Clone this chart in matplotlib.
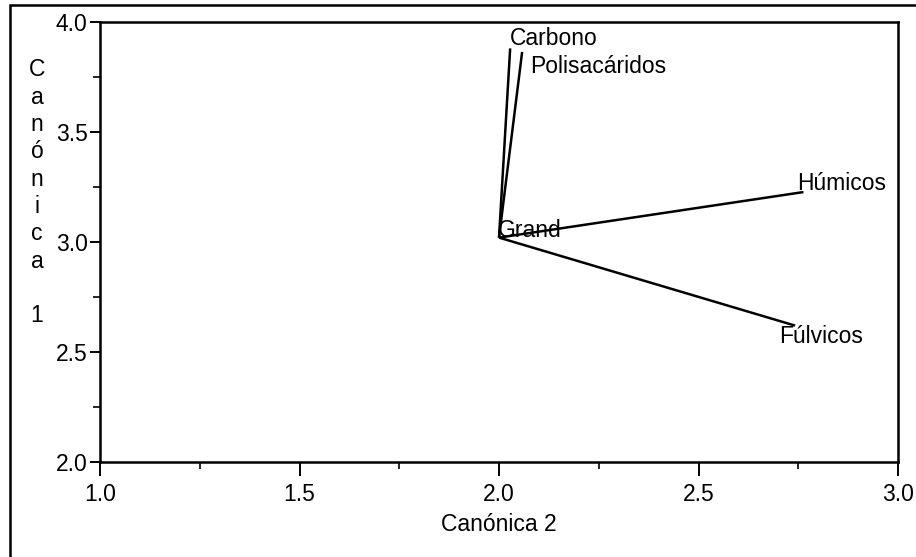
import matplotlib
matplotlib.use("Agg")
import matplotlib.pyplot as plt
from matplotlib.patches import Rectangle
from matplotlib.ticker import MultipleLocator

plt.rcParams["font.family"] = ["Liberation Sans", "DejaVu Sans"]

# Canonical centroid and variable vector end points
origin_label = "Grand"
origin = (2.0, 3.02)
variables = ["Carbono", "Polisacáridos", "Húmicos", "Fúlvicos"]
can2 = [2.028, 2.058, 2.763, 2.742]
can1 = [3.88, 3.864, 3.227, 2.62]
# label anchor points (left, baseline)
label_x = [2.027, 2.078, 2.748, 2.703]
label_y = [3.895, 3.768, 3.236, 2.541]

xticks = [1.0, 1.5, 2.0, 2.5, 3.0]
yticks = [2.0, 2.5, 3.0, 3.5, 4.0]

W, H = 916, 557
fig = plt.figure(figsize=(W / 100, H / 100), dpi=100)
ax = fig.add_axes([100 / W, 1 - 462 / H, 798 / W, 440 / H])

for x, y in zip(can2, can1):
    ax.plot([origin[0], x], [origin[1], y], color="black", lw=1.8,
            solid_capstyle="butt")

fs = 16.5
ax.text(origin[0] - 0.002, origin[1] + 0.003, origin_label, fontsize=fs,
        ha="left", va="baseline")
for name, x, y in zip(variables, label_x, label_y):
    ax.text(x, y, name, fontsize=fs, ha="left", va="baseline")

ax.set_xlim(1.0, 3.0)
ax.set_ylim(2.0, 4.0)
ax.set_xticks(xticks)
ax.set_yticks(yticks)
ax.set_xticklabels([f"{v:.1f}" for v in xticks])
ax.set_yticklabels([f"{v:.1f}" for v in yticks])
ax.xaxis.set_minor_locator(MultipleLocator(0.25))
ax.yaxis.set_minor_locator(MultipleLocator(0.25))
ax.tick_params(which="major", direction="out", width=1.4, labelsize=fs)
ax.tick_params(axis="x", which="major", length=10, pad=5)
ax.tick_params(axis="y", which="major", length=7, pad=2)
ax.tick_params(which="minor", direction="out", length=5, width=1.2)
for s in ax.spines.values():
    s.set_linewidth(1.8)

ax.set_xlabel("Canónica 2", fontsize=fs, labelpad=5)

# vertical stacked y-axis title
ylabel = "Canónica 1"
for i, ch in enumerate(ylabel):
    fig.text(37 / W, 1 - (70 + 27.3 * i) / H, ch, fontsize=fs,
             ha="center", va="center")

# outer frame of the figure panel
fig.patches.append(Rectangle((10 / W, -0.05), 1.0, 1 - 5 / H + 0.05,
                             transform=fig.transFigure, fill=False,
                             edgecolor="black", lw=1.8))

fig.savefig("out.png", dpi=100)
